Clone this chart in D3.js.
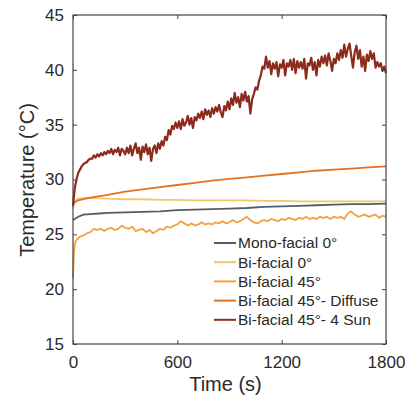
<!DOCTYPE html>
<html>
<head>
<meta charset="utf-8">
<script src="https://cdn.jsdelivr.net/npm/d3@7"></script>
<style>
  body { margin: 0; background: #fff; }
  svg text { font-family: "Liberation Sans", Arial, sans-serif; fill: #2a2a2a; }
</style>
</head>
<body>
<svg id="chart"></svg>
<script>
// series (time in s, temperature in C)
var monoTimes = [0, 10, 30, 60, 100, 150, 200, 300, 400, 500, 600, 700, 800, 900, 1000, 1100, 1200, 1300, 1400, 1500, 1600, 1700, 1800];
var monoValues = [26.3, 26.4, 26.6, 26.8, 26.85, 26.9, 26.95, 27.0, 27.05, 27.1, 27.2, 27.25, 27.3, 27.35, 27.4, 27.5, 27.55, 27.6, 27.65, 27.7, 27.75, 27.75, 27.8];

var bi0Times = [0, 5, 15, 30, 60, 100, 200, 300, 400, 500, 600, 700, 800, 900, 1000, 1100, 1200, 1300, 1400, 1500, 1600, 1700, 1800];
var bi0Values = [27.4, 27.8, 28.1, 28.25, 28.3, 28.3, 28.25, 28.2, 28.2, 28.15, 28.15, 28.1, 28.1, 28.1, 28.1, 28.05, 28.05, 28.0, 28.0, 28.0, 28.0, 28.0, 28.0];

var diffuseTimes = [0, 10, 30, 60, 100, 200, 300, 400, 500, 600, 700, 800, 900, 1000, 1100, 1200, 1300, 1400, 1500, 1600, 1700, 1800];
var diffuseValues = [27.7, 27.9, 28.1, 28.2, 28.35, 28.6, 28.9, 29.1, 29.3, 29.5, 29.7, 29.9, 30.05, 30.2, 30.35, 30.5, 30.65, 30.8, 30.9, 31.0, 31.1, 31.2];

// bi-facial 45: first 3 points, then every 20 s
var bi45Times = [0, 5, 10].concat(d3.range(20, 1801, 20));
var bi45Values = [21.0, 23.2, 24.1,
  24.5, 24.8, 24.9, 25.1, 25.2, 25.5, 25.4, 25.5, 25.3, 25.5,
  25.6, 25.4, 25.5, 25.8, 25.6, 25.5, 25.7, 25.3, 25.4, 25.5,
  25.2, 25.4, 25.1, 25.3, 25.5, 25.4, 25.7, 25.6, 25.8, 25.9,
  26.2, 26.0, 25.8, 26.0, 25.8, 25.9, 26.1, 25.9, 26.0, 25.9,
  26.1, 26.0, 26.2, 26.0, 26.1, 26.3, 26.1, 26.2, 26.4, 26.6,
  26.3, 26.1, 26.0, 26.2, 26.3, 26.2, 26.4, 26.3, 26.2, 26.4,
  26.3, 26.5, 26.4, 26.3, 26.5, 26.4, 26.6, 26.4, 26.5, 26.4,
  26.6, 26.5, 26.6, 26.4, 26.6, 26.5, 26.6, 26.4, 26.9, 27.1,
  26.8, 26.6, 26.7, 26.8, 26.6, 26.7, 26.8, 26.5, 26.7, 26.6];

// 4 sun: every 10 s
var sunTimes = d3.range(0, 1801, 10);
var sunValues = [
  27.6, 29.2, 30.0, 30.6, 30.9, 31.2, 31.4, 31.5, 31.6, 31.8, 31.9,
  31.9, 32.2, 32.0, 32.3, 32.1, 32.4, 32.2, 32.5, 32.3, 32.6,
  32.4, 32.8, 32.3, 32.7, 32.5, 32.9, 32.2, 32.8, 32.6, 32.3,
  32.9, 32.4, 33.1, 32.2, 32.8, 33.3, 32.4, 32.9, 31.8, 33.0,
  32.5, 33.2, 32.3, 32.9, 31.7, 32.8, 33.1, 32.4, 33.3, 32.8,
  33.5, 33.1, 33.9, 33.6, 34.5, 34.1, 34.9, 34.6, 35.2, 34.7,
  35.3, 34.6, 35.5, 34.9, 35.2, 35.8, 35.0, 35.6, 34.7, 35.7,
  35.4, 36.0, 35.6, 36.2, 35.5, 36.4, 35.9, 36.3, 35.7, 36.5,
  36.0, 36.6, 36.2, 36.8, 36.1, 35.7, 36.7, 36.3, 37.1, 36.4,
  37.4, 36.8, 37.9, 37.0, 37.5, 36.6, 37.8, 37.2, 38.0, 37.1,
  37.6, 36.0, 37.3, 37.8, 38.4, 38.2, 39.0, 39.5, 40.3, 40.1,
  41.2, 40.2, 40.8, 39.6, 40.6, 40.1, 40.7, 39.4, 40.5, 40.2,
  40.9, 39.5, 40.6, 40.3, 40.9, 40.0, 41.0, 39.7, 40.8, 40.2,
  40.7, 40.1, 41.0, 39.2, 40.6, 40.4, 41.1, 40.0, 40.7, 39.5,
  40.9, 40.3, 41.2, 40.6, 41.3, 40.4, 41.5, 40.8, 39.9, 41.0,
  40.6, 41.5, 40.9, 41.8, 41.1, 42.3, 41.2, 41.9, 42.4, 41.3,
  40.2, 41.6, 42.2, 41.0, 41.8, 40.3, 41.2, 39.9, 41.4, 40.8,
  41.7, 41.0, 41.5, 40.2, 40.7, 40.3, 40.6, 39.9, 40.3, 39.7];

var seriesNames = ["Mono-facial 0°", "Bi-facial 0°", "Bi-facial 45°", "Bi-facial 45°- Diffuse", "Bi-facial 45°- 4 Sun"];
var seriesColors = ["#585c64", "#f6c46c", "#f3a041", "#e3711f", "#8c2a1c"];

var xTicks = [0, 600, 1200, 1800];
var yTicks = [15, 20, 25, 30, 35, 40, 45];

var series = [
  {times: monoTimes, values: monoValues},
  {times: bi0Times, values: bi0Values},
  {times: bi45Times, values: bi45Values},
  {times: diffuseTimes, values: diffuseValues},
  {times: sunTimes, values: sunValues}
];

var margin = {top: 15, right: 19, bottom: 55, left: 73},
    width = 405 - margin.left - margin.right,
    height = 399 - margin.top - margin.bottom;

var x = d3.scaleLinear().domain([0, 1800]).range([0, width]);
var y = d3.scaleLinear().domain([15, 45]).range([height, 0]);

var svg = d3.select("svg#chart")
    .attr("width", 405)
    .attr("height", 399)
  .append("g")
    .attr("transform", "translate(" + margin.left + "," + margin.top + ")");

var line = d3.line()
    .x(function(d) { return x(d[0]); })
    .y(function(d) { return y(d[1]); });

// lines, 4 sun last so it sits on top
series.forEach(function(s, i) {
  var pts = s.times.map(function(t, j) { return [t, s.values[j]]; });
  svg.append("path")
    .datum(pts)
    .attr("fill", "none")
    .attr("stroke", seriesColors[i])
    .attr("stroke-width", i == 4 ? 2.2 : 1.8)
    .attr("stroke-linejoin", "round")
    .attr("d", line);
});

// axes, ticks pointing inward on all four sides
function styleAxis(g) {
  g.select(".domain").remove();
  g.selectAll("line").attr("stroke", "#444");
  g.selectAll("text").style("font-size", "17px").attr("fill", "#2a2a2a");
}

svg.append("g")
  .attr("transform", "translate(0," + height + ")")
  .call(d3.axisBottom(x).tickValues(xTicks).tickFormat(d3.format("d"))
    .tickSizeInner(-4).tickSizeOuter(0).tickPadding(12))
  .call(styleAxis);

svg.append("g")
  .call(d3.axisTop(x).tickValues(xTicks).tickSizeInner(-4).tickSizeOuter(0).tickFormat(""))
  .call(styleAxis);

svg.append("g")
  .call(d3.axisLeft(y).tickValues(yTicks).tickSizeInner(-4).tickSizeOuter(0).tickPadding(9))
  .call(styleAxis);

svg.append("g")
  .attr("transform", "translate(" + width + ",0)")
  .call(d3.axisRight(y).tickValues(yTicks).tickSizeInner(-4).tickSizeOuter(0).tickFormat(""))
  .call(styleAxis);

svg.append("rect")
  .attr("width", width)
  .attr("height", height)
  .attr("fill", "none")
  .attr("stroke", "#444")
  .attr("stroke-width", 1.2);

// axis titles
svg.append("text")
  .attr("x", width / 2 - 4)
  .attr("y", height + 47)
  .attr("text-anchor", "middle")
  .style("font-size", "20px")
  .text("Time (s)");

svg.append("text")
  .attr("transform", "translate(" + (34 - margin.left) + "," + (180 - margin.top) + ") rotate(-90)")
  .attr("text-anchor", "middle")
  .style("font-size", "20px")
  .text("Temperature (°C)");

// legend
var legend = svg.append("g")
  .attr("transform", "translate(" + (214 - margin.left) + "," + (243 - margin.top) + ")");

seriesNames.forEach(function(name, i) {
  var row = legend.append("g").attr("transform", "translate(0," + (i * 19.2) + ")");
  row.append("line")
    .attr("x1", 0).attr("x2", 22)
    .attr("stroke", seriesColors[i])
    .attr("stroke-width", 2);
  row.append("text")
    .attr("x", 24)
    .attr("dy", "0.35em")
    .style("font-size", "15.5px")
    .text(name);
});
</script>
</body>
</html>
